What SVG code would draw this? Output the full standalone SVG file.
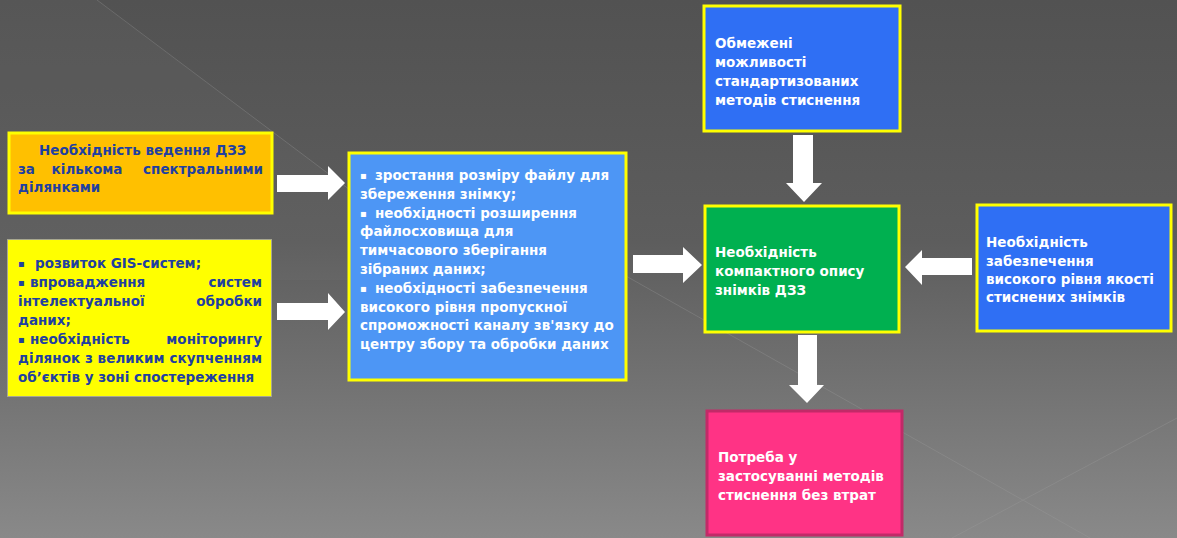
<svg xmlns="http://www.w3.org/2000/svg" width="1177" height="538" viewBox="0 0 1177 538">
  <defs>
    <linearGradient id="bg" x1="0" y1="0" x2="0" y2="1">
      <stop offset="0" stop-color="#525252"/>
      <stop offset="0.45" stop-color="#5d5d5d"/>
      <stop offset="1" stop-color="#898989"/>
    </linearGradient>
    <style>
      .t { font-family: "DejaVu Sans", "Liberation Sans", sans-serif; font-weight: bold; font-size: 13.5px; }
      .bl { font-size: 10px; }
      .w { fill: #ffffff; }
      .b { fill: #1f40a0; }
      .arrow { fill: #ffffff; stroke: none; }
      .yb { stroke: #ffff00; stroke-width: 3; }
    </style>
  </defs>

  <!-- background -->
  <rect x="0" y="0" width="1177" height="538" fill="url(#bg)"/>
  <polygon points="0,0 97,0 470,280 0,280" fill="#ffffff" opacity="0.025"/>
  <g stroke="#a0a0a0" stroke-width="1" opacity="0.3" fill="none">
    <line x1="97" y1="0" x2="470" y2="280"/>
    <line x1="440" y1="171" x2="1090" y2="538"/>
    <line x1="952" y1="538" x2="1177" y2="418"/>
  </g>

  <!-- connectors -->
  <g id="connectors">
    <polygon class="arrow" points="277,175 328,175 328,166 345,183 328,200 328,192 277,192"/>
    <polygon class="arrow" points="277,303 328,303 328,293 345,312 328,330 328,320 277,320"/>
    <polygon class="arrow" points="633,255 683,255 683,247 702,265 683,283 683,273 633,273"/>
    <polygon class="arrow" points="793,135 813,135 813,183 822,183 804,202 786,183 793,183"/>
    <polygon class="arrow" points="972,258 922,258 922,250 905,267 922,285 922,275 972,275"/>
    <polygon class="arrow" points="798,335 817,335 817,385 824,385 807,403 789,385 798,385"/>
  </g>

  <!-- node 1: orange -->
  <g id="node-spectral">
    <rect x="9" y="133" width="263" height="80" fill="#ffc000" class="yb"/>
    <text class="t b" x="39" y="155">Необхідність ведення ДЗЗ</text>
    <text class="t b" y="174"><tspan x="18">за</tspan><tspan x="87" text-anchor="middle">кількома</tspan><tspan x="263" text-anchor="end">спектральними</tspan></text>
    <text class="t b" x="18" y="192">ділянками</text>
  </g>

  <!-- node 2: yellow -->
  <g id="node-gis">
    <rect x="7.5" y="239.5" width="264" height="157" fill="#ffff00" stroke="#a8a890" stroke-width="1"/>
    <text class="t b" y="268"><tspan class="bl" x="18" dy="-1">▪</tspan><tspan x="35" dy="1">розвиток GIS-систем;</tspan></text>
    <text class="t b" y="287"><tspan class="bl" x="18" dy="-1">▪</tspan><tspan x="30" dy="1">впровадження</tspan><tspan x="262" text-anchor="end">систем</tspan></text>
    <text class="t b" y="306"><tspan x="18">інтелектуальної</tspan><tspan x="262" text-anchor="end">обробки</tspan></text>
    <text class="t b" x="18" y="325">даних;</text>
    <text class="t b" y="344"><tspan class="bl" x="18" dy="-1">▪</tspan><tspan x="30" dy="1">необхідність</tspan><tspan x="262" text-anchor="end">моніторингу</tspan></text>
    <text class="t b" x="18" y="363" textLength="244" lengthAdjust="spacing">ділянок з великим скупченням</text>
    <text class="t b" x="18" y="382">об’єктів у зоні спостереження</text>
  </g>

  <!-- node 3: light blue -->
  <g id="node-problems">
    <rect x="349" y="153" width="277" height="227" fill="#4d96f5" class="yb"/>
    <text class="t w" y="180"><tspan class="bl" x="360" dy="-1">▪</tspan><tspan x="375" dy="1">зростання розміру файлу для</tspan></text>
    <text class="t w" x="360" y="199">збереження знімку;</text>
    <text class="t w" y="218"><tspan class="bl" x="360" dy="-1">▪</tspan><tspan x="375" dy="1">необхідності розширення</tspan></text>
    <text class="t w" x="360" y="236">файлосховища для</text>
    <text class="t w" x="360" y="255">тимчасового зберігання</text>
    <text class="t w" x="360" y="274">зібраних даних;</text>
    <text class="t w" y="293"><tspan class="bl" x="360" dy="-1">▪</tspan><tspan x="375" dy="1">необхідності забезпечення</tspan></text>
    <text class="t w" x="360" y="312">високого рівня пропускної</text>
    <text class="t w" x="360" y="330">спроможності каналу зв'язку до</text>
    <text class="t w" x="360" y="349">центру збору та обробки даних</text>
  </g>

  <!-- node 4: top blue -->
  <g id="node-limited">
    <rect x="704" y="6" width="196" height="125" fill="#2f6ff4" class="yb"/>
    <text class="t w" x="715" y="48">Обмежені</text>
    <text class="t w" x="715" y="67">можливості</text>
    <text class="t w" x="715" y="86">стандартизованих</text>
    <text class="t w" x="715" y="105">методів стиснення</text>
  </g>

  <!-- node 5: green -->
  <g id="node-compact">
    <rect x="705" y="206" width="194" height="126" fill="#00b050" class="yb"/>
    <text class="t w" x="715" y="257">Необхідність</text>
    <text class="t w" x="715" y="276">компактного опису</text>
    <text class="t w" x="715" y="295">знімків ДЗЗ</text>
  </g>

  <!-- node 6: right blue -->
  <g id="node-quality">
    <rect x="977" y="205" width="194" height="126" fill="#2f6ff4" class="yb"/>
    <text class="t w" x="986" y="247">Необхідність</text>
    <text class="t w" x="986" y="266">забезпечення</text>
    <text class="t w" x="986" y="284">високого рівня якості</text>
    <text class="t w" x="986" y="302">стиснених знімків</text>
  </g>

  <!-- node 7: pink -->
  <g id="node-lossless">
    <rect x="707" y="411" width="195" height="124" fill="#ff3385" stroke="#c22a68" stroke-width="3"/>
    <text class="t w" x="718" y="462">Потреба у</text>
    <text class="t w" x="718" y="481">застосуванні методів</text>
    <text class="t w" x="718" y="500">стиснення без втрат</text>
  </g>
</svg>
